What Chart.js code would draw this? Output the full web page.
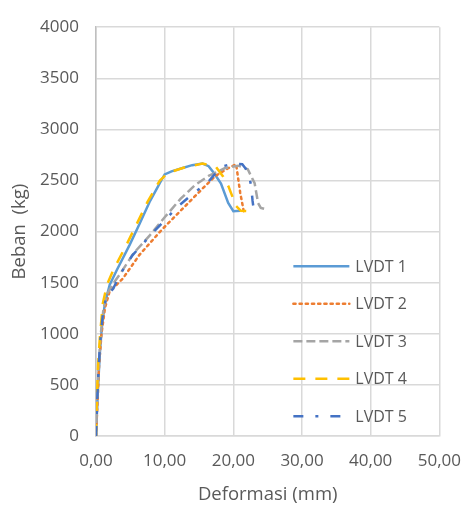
<!DOCTYPE html>
<html>
<head>
<meta charset="utf-8">
<script src="https://cdn.jsdelivr.net/npm/chart.js@4"></script>
<style>
  html, body { margin: 0; padding: 0; background: #fff; }
  #wrap { width: 476px; height: 519px; position: relative; }
</style>
</head>
<body>
<div id="wrap"><canvas id="grafico"></canvas></div>
<script>
// nilai (deformasi mm, beban kg)
let seriesNames = ['LVDT 1', 'LVDT 2', 'LVDT 3', 'LVDT 4', 'LVDT 5'];
let xTicks = [0, 10, 20, 30, 40, 50];
let yTicks = [0, 500, 1000, 1500, 2000, 2500, 3000, 3500, 4000];

let lvdt1X = [0, 0.15, 0.35, 0.6, 0.9, 1.3, 2.0, 3.0, 4.9, 6.3, 7.8, 8.7, 9.5, 10.0, 11.0, 12.5, 14.0, 15.5, 16.4, 17.2, 18.2, 19.25, 20.0, 21.0];
let lvdt1Y = [0, 250, 550, 850, 1100, 1300, 1480, 1620, 1870, 2070, 2290, 2400, 2500, 2560, 2590, 2620, 2650, 2665, 2640, 2570, 2470, 2280, 2200, 2205];

let lvdt2X = [0, 0.2, 0.45, 0.8, 1.3, 2.0, 3.0, 3.9, 6.3, 9.6, 13.0, 15.5, 17.4, 19.3, 20.4, 20.7, 21.0, 21.4, 21.5];
let lvdt2Y = [0, 300, 700, 1000, 1250, 1420, 1480, 1540, 1770, 2020, 2250, 2420, 2545, 2622, 2660, 2520, 2380, 2240, 2200];

let lvdt3X = [0, 0.15, 0.4, 0.7, 1.1, 1.7, 2.7, 3.5, 5.5, 7.8, 10.0, 12.3, 14.5, 16.4, 18.8, 20.7, 22.1, 23.1, 23.6, 24.0, 25.0];
let lvdt3Y = [0, 300, 700, 1000, 1250, 1400, 1510, 1585, 1790, 1960, 2140, 2320, 2460, 2545, 2622, 2645, 2610, 2473, 2280, 2232, 2213];

let lvdt4X = [0, 0.1, 0.3, 0.6, 1.0, 1.6, 2.5, 4.5, 7.5, 9.3, 10.5, 13.0, 15.5, 16.6, 17.5, 18.5, 19.3, 20.4, 21.1, 22.6, 23.3];
let lvdt4Y = [0, 300, 700, 1000, 1300, 1480, 1620, 1880, 2290, 2500, 2575, 2630, 2665, 2650, 2630, 2540, 2440, 2250, 2203, 2200, 2213];

let lvdt5X = [0, 0.15, 0.4, 0.7, 1.1, 1.6, 2.5, 3.45, 5.3, 8.7, 12.0, 14.5, 16.4, 17.5, 18.5, 20.0, 21.3, 22.2, 22.6, 22.8, 22.9];
let lvdt5Y = [0, 300, 700, 1000, 1250, 1380, 1440, 1575, 1768, 2019, 2251, 2390, 2490, 2580, 2640, 2665, 2660, 2580, 2444, 2300, 2250];

let warna = ['#5B9BD5', '#ED7D31', '#A5A5A5', '#FFC000', '#4472C4'];
let garisPutus = [[], [2.2, 4], [9, 4], [12, 10], [10, 12, 3, 12]];

function gabung(xs, ys) {
    let hasil = [];
    for (let i = 0; i < xs.length; i++) {
        hasil.push({ x: xs[i], y: ys[i] });
    }
    return hasil;
}

let semuaX = [lvdt1X, lvdt2X, lvdt3X, lvdt4X, lvdt5X];
let semuaY = [lvdt1Y, lvdt2Y, lvdt3Y, lvdt4Y, lvdt5Y];

let datasets = [];
for (let i = 0; i < seriesNames.length; i++) {
    datasets.push({
        label: seriesNames[i],
        data: gabung(semuaX[i], semuaY[i]),
        showLine: true,
        borderColor: warna[i],
        backgroundColor: warna[i],
        borderWidth: 2.5,
        borderDash: garisPutus[i],
        borderCapStyle: i == 1 ? 'round' : 'butt',
        pointRadius: 0,
        tension: 0,
        order: seriesNames.length - i
    });
}

const fontTick = { family: 'Open Sans', size: 17 };
const fontJudul = { family: 'Open Sans', size: 18.5 };
const fontLegenda = { family: 'Open Sans', size: 16 };
const warnaTeks = '#595959';
const warnaGrid = '#D9D9D9';

// legenda di dalam area plot, seperti excel
const legendaPlugin = {
    id: 'legendaDalam',
    afterDraw(chart) {
        const ctx = chart.ctx;
        const area = chart.chartArea;
        ctx.save();
        chart.data.datasets.forEach(function (ds, i) {
            const y = area.top + 239 + i * 37.5;
            const x0 = area.right - 146;
            ctx.beginPath();
            ctx.strokeStyle = ds.borderColor;
            ctx.lineWidth = ds.borderWidth;
            ctx.lineCap = ds.borderCapStyle;
            ctx.setLineDash(ds.borderDash);
            ctx.moveTo(x0, y);
            ctx.lineTo(x0 + 56, y);
            ctx.stroke();
            ctx.setLineDash([]);
            ctx.fillStyle = warnaTeks;
            ctx.font = fontLegenda.size + 'px "' + fontLegenda.family + '"';
            ctx.textBaseline = 'middle';
            ctx.textAlign = 'left';
            ctx.fillText(ds.label, x0 + 62, y + 1);
        });
        ctx.restore();
    }
};

let grafik = new Chart(document.getElementById('grafico').getContext('2d'), {
    type: 'scatter',
    data: { datasets: datasets },
    options: {
        responsive: true,
        maintainAspectRatio: false,
        animation: false,
        layout: { padding: { left: 0, right: 33, top: 21, bottom: 0 } },
        plugins: {
            legend: { display: false },
            tooltip: { enabled: false }
        },
        scales: {
            x: {
                type: 'linear',
                min: xTicks[0],
                max: xTicks[xTicks.length - 1],
                afterBuildTicks: function (scale) {
                    scale.ticks = xTicks.map(v => ({ value: v }));
                },
                afterFit: function (scale) { scale.height = 83; },
                ticks: {
                    color: warnaTeks,
                    font: fontTick,
                    padding: 15,
                    maxRotation: 0,
                    callback: v => v.toFixed(2).replace('.', ',')
                },
                grid: { color: warnaGrid, lineWidth: 1.5, drawTicks: false },
                border: { color: warnaGrid, width: 1.5 },
                title: {
                    display: true,
                    text: 'Deformasi (mm)',
                    color: warnaTeks,
                    font: fontJudul,
                    padding: { top: 4, bottom: 13 }
                }
            },
            y: {
                type: 'linear',
                min: yTicks[0],
                max: yTicks[yTicks.length - 1],
                afterBuildTicks: function (scale) {
                    scale.ticks = yTicks.map(v => ({ value: v }));
                },
                afterFit: function (scale) { scale.width = 96; },
                ticks: {
                    color: warnaTeks,
                    font: fontTick,
                    padding: 17,
                    callback: v => String(v)
                },
                grid: { color: warnaGrid, lineWidth: 1.5, drawTicks: false },
                border: { color: '#BFBFBF', width: 1.5 },
                title: {
                    display: true,
                    text: 'Beban  (kg)',
                    color: warnaTeks,
                    font: fontJudul,
                    padding: { top: 9, bottom: 4 }
                }
            }
        }
    },
    plugins: [legendaPlugin]
});
</script>
</body>
</html>
